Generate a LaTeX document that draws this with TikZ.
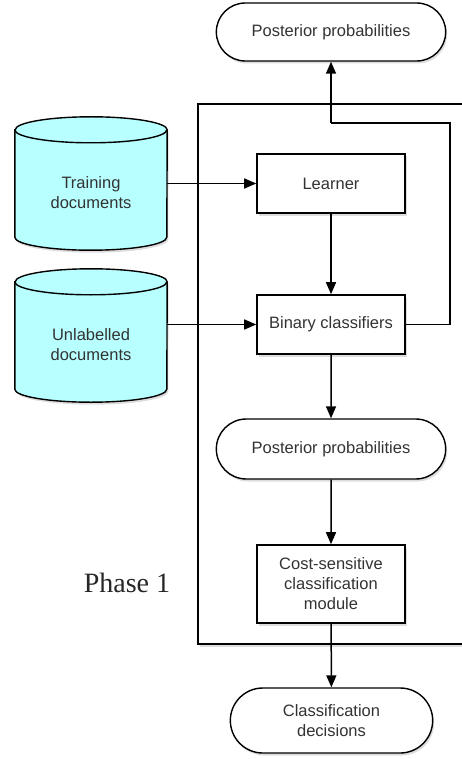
\documentclass[tikz,border=0pt]{standalone}
\usepackage{fontspec}
\setmainfont{Liberation Sans}
\newfontfamily\phasefont{Liberation Serif}
\usetikzlibrary{arrows.meta,shadows,shapes.misc}

\definecolor{cylfill}{HTML}{B8FFFF}
\definecolor{txt}{HTML}{333333}

\tikzset{
  labelfont/.style={font=\fontsize{16.5}{20}\selectfont},
  softshadow/.style={drop shadow={shadow xshift=1.5pt,shadow yshift=-2.5pt,opacity=0.22,fill=black!60}},
  procbox/.style={draw,line width=1.6pt,fill=white,minimum width=148pt,minimum height=59pt,
    align=center,text=txt,labelfont,softshadow},
  pill/.style={draw,line width=1.4pt,fill=white,rounded rectangle,minimum width=236pt,minimum height=58pt,
    align=center,text=txt,labelfont,softshadow},
  cylbox/.style={minimum width=152pt,minimum height=133pt},
  cyltext/.style={text=txt,labelfont,align=center},
  flow/.style={line width=1.5pt,-{Triangle[length=12pt,width=10pt]}},
  plain/.style={line width=1.5pt},
}

% cylinder drawn around a named node
\newcommand\cylaround[1]{%
  \fill[black!60,opacity=0.22]
    ([shift={(1.5pt,-15.5pt)}]#1.north west) -- ([shift={(1.5pt,10.5pt)}]#1.south west)
    arc[start angle=180,end angle=360,x radius=76pt,y radius=13pt]
    -- ([shift={(1.5pt,-15.5pt)}]#1.north east)
    arc[start angle=0,end angle=180,x radius=76pt,y radius=13pt] -- cycle;
  \filldraw[fill=cylfill,line width=1.4pt]
    ([yshift=-13pt]#1.north west) -- ([yshift=13pt]#1.south west)
    arc[start angle=180,end angle=360,x radius=76pt,y radius=13pt]
    -- ([yshift=-13pt]#1.north east)
    arc[start angle=0,end angle=180,x radius=76pt,y radius=13pt] -- cycle;
  \draw[line width=1.4pt] ([yshift=-13pt]#1.north west)
    arc[start angle=180,end angle=360,x radius=76pt,y radius=13pt];
}

\begin{document}
\begin{tikzpicture}[x=1pt,y=1pt]
\useasboundingbox (0,0) rectangle (462,-759);

% phase frame, open to the right
\draw[line width=1.4pt,fill=white,softshadow] (198,-104) rectangle (480,-644);

% data stores
\node[cylbox] (train) at (91,-183.5) {};
\cylaround{train}
\node[cylbox] (unlab) at (91,-335.5) {};
\cylaround{unlab}
\node[cyltext] (traintxt) at (91,-193) {Training\\documents};
\node[cyltext] (unlabtxt) at (91,-345) {Unlabelled\\documents};

% processing chain
\node[pill] (posttop) at (331,-32) {Posterior probabilities};
\node[procbox] (learner) at (331,-183.5) {Learner};
\node[procbox] (binary) at (331,-324.5) {Binary classifiers};
\node[pill,minimum height=60pt] (postmid) at (331,-449) {Posterior probabilities};
\node[procbox,minimum height=78pt] (cost) at (331,-584) {Cost-sensitive\\classification\\module};
\node[pill,minimum width=209pt,minimum height=65pt] (decide) at (331.5,-720.5) {Classification\\decisions};

\node[font=\phasefont\fontsize{28}{32}\selectfont,text=black!85] (phase) at (127,-583) {Phase 1};

% connectors
\coordinate (fbright) at (450,-324.5);
\coordinate (fbcorner) at (450,-123);
\coordinate (fbleft) at (331,-123);

\draw[flow] (train.east |- learner.west) -- (learner.west);
\draw[flow] (unlab.east |- binary.west) -- (binary.west);
\draw[flow] (learner) -- (binary);
\draw[flow] (binary) -- (postmid);
\draw[flow] (postmid) -- (cost);
\draw[flow] (cost) -- (decide);
\draw[plain] (binary.east) -- (fbright) -- (fbcorner) -- (fbleft);
\draw[flow] (fbleft) -- (posttop.south);
\end{tikzpicture}
\end{document}
